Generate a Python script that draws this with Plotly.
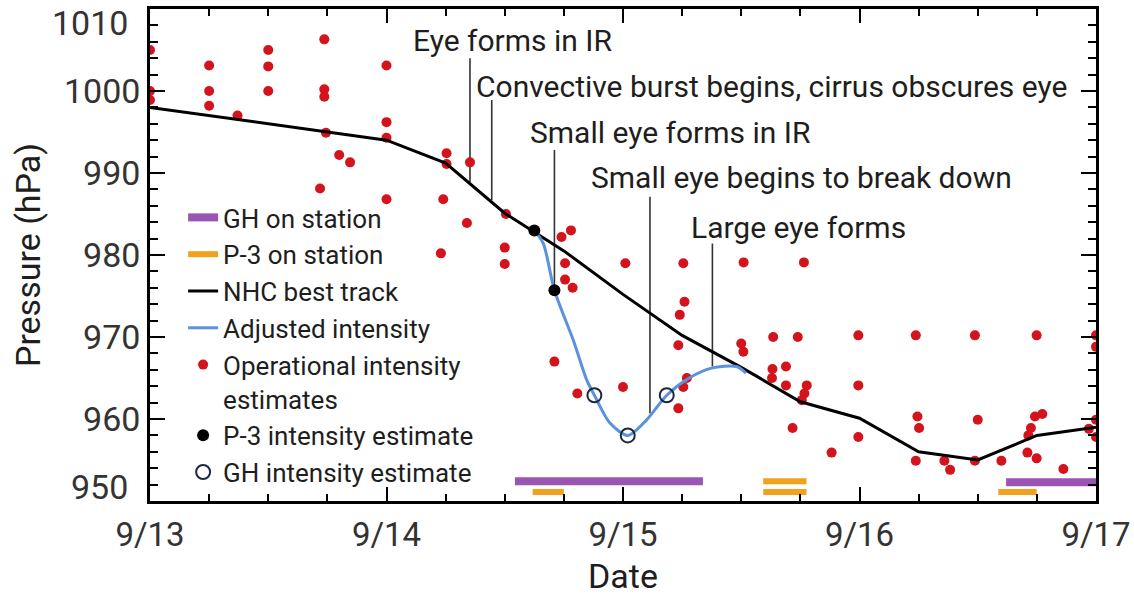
import plotly.graph_objects as go

# ---------------- data (time in days since 9/13 00 UTC, pressure in hPa) ----------------
x_tickvals = [0, 1, 2, 3, 4]
x_ticktext = ["9/13", "9/14", "9/15", "9/16", "9/17"]
y_tickvals = [960, 970, 980, 990, 1000]
y_end_labels = [1010, 950]

best_t = [0, 0.25, 0.5, 0.75, 1.0, 1.25, 1.5, 1.75, 2.0, 2.25, 2.5, 2.75, 3.0, 3.25, 3.5, 3.75, 4.0]
best_p = [998.0, 997.0, 996.0, 995.0, 994.0, 991.2, 985.1, 980.5, 975.2, 970.2, 966.3, 962.1, 960.1, 956.0, 955.0, 958.0, 959.0]

adj_t = [1.625, 1.663, 1.71, 1.79, 1.846, 1.879, 1.945, 2.02, 2.10, 2.185, 2.28, 2.374, 2.48, 2.52]
adj_p = [983.0, 981.4, 975.7, 969.6, 964.8, 962.9, 959.5, 958.0, 959.9, 962.9, 965.0, 966.2, 966.4, 965.6]

op_t = [0.0, 0.0, 0.0, 0.25, 0.25, 0.25, 0.37, 0.5, 0.5, 0.5,
        0.737, 0.737, 0.737, 0.744, 0.719, 0.80, 0.846,
        1.0, 1.0, 1.0, 1.0,
        1.254, 1.254, 1.24, 1.34, 1.23, 1.353,
        1.505, 1.50, 1.50,
        1.74, 1.78, 1.755, 1.755, 1.787, 1.71, 1.807,
        2.0, 2.01,
        2.255, 2.26, 2.24, 2.234, 2.255, 2.234, 2.27,
        2.51, 2.50, 2.509,
        2.635, 2.632, 2.63, 2.689, 2.689, 2.739, 2.765,
        2.777, 2.767, 2.756, 2.717, 2.882,
        2.995, 2.995, 2.995,
        3.238, 3.245, 3.252, 3.238, 3.359, 3.383,
        3.488, 3.5, 3.488, 3.6,
        3.749, 3.742, 3.773, 3.725, 3.714, 3.71, 3.749, 3.862,
        4.0, 4.0, 4.0, 4.0, 3.97]
op_p = [1005.0, 1000.0, 998.9, 1003.1, 1000.0, 998.2, 997.0, 1005.0, 1003.0, 1000.0,
        1006.3, 1000.2, 999.3, 994.9, 988.1, 992.2, 991.3,
        1003.1, 996.2, 994.3, 986.8,
        992.4, 991.1, 986.8, 983.9, 980.2, 991.3,
        985.0, 980.9, 978.9,
        982.2, 983.0, 979.0, 977.0, 976.0, 967.0, 963.1,
        963.9, 979.0,
        979.0, 974.3, 972.7, 969.0, 963.9, 961.3, 965.0,
        979.1, 969.2, 968.2,
        970.0, 966.1, 965.0, 966.4, 964.1, 970.0, 979.1,
        964.1, 963.1, 962.3, 958.9, 955.9,
        970.2, 964.1, 957.8,
        970.2, 960.3, 958.9, 954.9, 954.9, 953.8,
        970.2, 959.9, 954.9, 954.9,
        970.2, 960.3, 960.6, 958.9, 958.0, 955.9, 955.2, 953.9,
        970.2, 968.8, 959.9, 957.8, 958.8]

p3_t = [1.625, 1.71]
p3_p = [983.0, 975.7]

gh_t = [1.879, 2.02, 2.185]
gh_p = [962.9, 958.0, 962.9]

gh_station_start = [1.543, 3.62]
gh_station_end = [2.338, 4.0]
gh_station_level = [952.4, 952.3]

p3_station_start = [1.618, 2.593, 2.593, 3.587]
p3_station_end = [1.75, 2.776, 2.776, 3.749]
p3_station_level = [951.1, 952.4, 951.1, 951.1]

event_labels = ["Eye forms in IR",
                "Convective burst begins, cirrus obscures eye",
                "Small eye forms in IR",
                "Small eye begins to break down",
                "Large eye forms"]
event_t = [1.353, 1.445, 1.71, 2.114, 2.378]
event_top = [1004.0, 998.9, 992.8, 987.1, 981.4]
event_bottom = [988.9, 986.7, 975.7, 960.7, 966.4]
label_t = [1.531, 2.626, 2.199, 2.753, 2.744]
label_p = [1006.1, 1000.5, 994.9, 989.4, 983.4]

# ---------------- style ----------------
FONT = "Roboto"
TXT = "#1e1e1e"
TICK = "#333333"
RED = "#d3141c"
PURPLE = "#9a55b4"
ORANGE = "#f0a21e"
BLUE = "#5a92de"


def segments(starts, ends, levels):
    xs, ys = [], []
    for s, e, lv in zip(starts, ends, levels):
        xs += [s, e, None]
        ys += [lv, lv, None]
    return xs, ys


fig = go.Figure()

# event marker lines
ex, ey = [], []
for t, top, bot in zip(event_t, event_top, event_bottom):
    ex += [t, t, None]
    ey += [top, bot, None]
fig.add_trace(go.Scatter(x=ex, y=ey, mode="lines", line=dict(color="#333333", width=1.6),
                         showlegend=False, hoverinfo="skip"))

gx, gy = segments(gh_station_start, gh_station_end, gh_station_level)
fig.add_trace(go.Scatter(x=gx, y=gy, mode="lines", name="GH on station",
                         line=dict(color=PURPLE, width=8), legendrank=1))
px_, py_ = segments(p3_station_start, p3_station_end, p3_station_level)
fig.add_trace(go.Scatter(x=px_, y=py_, mode="lines", name="P-3 on station",
                         line=dict(color=ORANGE, width=6), legendrank=2))

fig.add_trace(go.Scatter(x=op_t, y=op_p, mode="markers",
                         name="Operational intensity<br>estimates",
                         marker=dict(color=RED, size=10, line=dict(width=0)), legendrank=5))

fig.add_trace(go.Scatter(x=best_t, y=best_p, mode="lines", name="NHC best track",
                         line=dict(color="black", width=3), legendrank=3))
fig.add_trace(go.Scatter(x=adj_t, y=adj_p, mode="lines", name="Adjusted intensity",
                         line=dict(color=BLUE, width=3, shape="spline", smoothing=0.8), legendrank=4))

fig.add_trace(go.Scatter(x=p3_t, y=p3_p, mode="markers", name="P-3 intensity estimate",
                         marker=dict(color="black", size=12), legendrank=6))
fig.add_trace(go.Scatter(x=gh_t, y=gh_p, mode="markers", name="GH intensity estimate",
                         marker=dict(color="rgba(0,0,0,0)", size=14,
                                     line=dict(color="#1b2740", width=2)), legendrank=7))

# empty trace to show the mirrored top/right tick axes
fig.add_trace(go.Scatter(x=[], y=[], xaxis="x2", yaxis="y2", showlegend=False, hoverinfo="skip"))

for lab, t, p in zip(event_labels, label_t, label_p):
    fig.add_annotation(x=t, y=p, text=lab, showarrow=False, xanchor="center", yanchor="middle",
                       font=dict(family=FONT, size=30, color=TXT))

# end labels of the y axis, nudged inside like the original
for v, shift in zip(y_end_labels, [-14, 14]):
    fig.add_annotation(x=0, xref="paper", y=v, text=str(v), showarrow=False,
                       xanchor="right", yanchor="middle", xshift=-20, yshift=shift,
                       font=dict(family=FONT, size=34, color=TICK))

tick_common = dict(tickwidth=2, tickcolor="black")

fig.update_layout(
    width=1134, height=596,
    margin=dict(l=150, r=38, t=9, b=95, autoexpand=False),
    paper_bgcolor="white", plot_bgcolor="white",
    font=dict(family=FONT, color=TXT),
    showlegend=True,
    legend=dict(x=0.035, y=0.624, xanchor="left", yanchor="top",
                bgcolor="rgba(0,0,0,0)", font=dict(family=FONT, size=26, color=TXT),
                valign="top", tracegroupgap=0, itemwidth=30),
    xaxis2=dict(overlaying="x", side="top", range=[0, 4], tickvals=x_tickvals,
                showticklabels=False, showgrid=False, zeroline=False, showline=False,
                automargin=False,
                ticks="inside", ticklen=14, **tick_common,
                minor=dict(dtick=0.25, ticks="inside", ticklen=7, **tick_common)),
    yaxis2=dict(overlaying="y", side="right", range=[950, 1010], tickvals=y_tickvals,
                showticklabels=False, showgrid=False, zeroline=False, showline=False,
                automargin=False,
                ticks="inside", ticklen=15, **tick_common,
                minor=dict(dtick=2, ticks="inside", ticklen=8, **tick_common)),
)

fig.layout.xaxis.update(range=[0, 4], tickvals=x_tickvals, ticktext=x_ticktext,
                        showgrid=False, zeroline=False, automargin=False,
                        showline=True, linecolor="black", linewidth=2.5, mirror=True,
                        ticks="inside", ticklen=14, **tick_common,
                        minor=dict(dtick=0.25, ticks="inside", ticklen=7, **tick_common),
                        ticklabelstandoff=3,
                        tickfont=dict(family=FONT, size=33, color=TICK),
                        title=dict(text="Date", font=dict(family=FONT, size=34, color=TXT), standoff=12))

fig.layout.yaxis.update(range=[950, 1010], tickvals=y_tickvals,
                        showgrid=False, zeroline=False, automargin=False,
                        showline=True, linecolor="black", linewidth=2.5, mirror=True,
                        ticks="inside", ticklen=15, **tick_common,
                        minor=dict(dtick=2, ticks="inside", ticklen=8, **tick_common),
                        tickfont=dict(family=FONT, size=34, color=TICK),
                        title=dict(text="Pressure (hPa)", font=dict(family=FONT, size=34, color=TXT), standoff=14))

fig.write_html("out.html")
